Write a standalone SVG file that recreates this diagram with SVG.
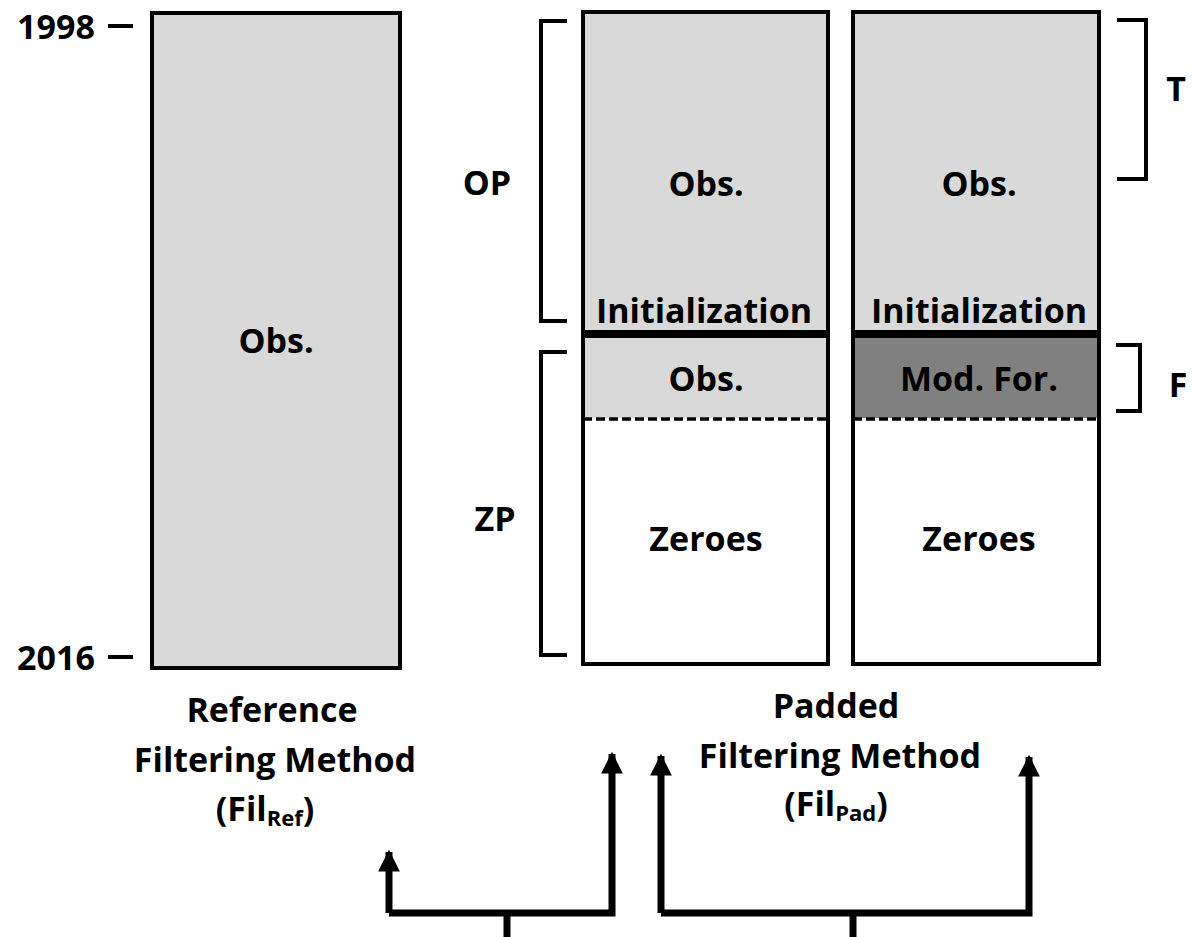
<svg xmlns="http://www.w3.org/2000/svg" width="1192" height="937" viewBox="0 0 1192 937">
<defs>
<style>
text{font-family:"Open Sans","Liberation Sans",sans-serif;font-weight:bold;fill:#000;text-anchor:middle;dominant-baseline:central}
.t{font-size:34px}
.box{stroke:#000;stroke-width:4}
.gray{fill:#d9d9d9}
.dark{fill:#808080}
.white{fill:#fff}
.br{fill:none;stroke:#000;stroke-width:4}
.con{fill:none;stroke:#000;stroke-width:7}
.dash{stroke:#000;stroke-width:3.5;stroke-dasharray:9,4}
</style>
<marker id="ah" viewBox="0 0 10 10" refX="9" refY="5" markerWidth="3.3" markerHeight="3.1" orient="auto" markerUnits="strokeWidth">
<path d="M0,0 L10,5 L0,10 Z" fill="#000"/>
</marker>
</defs>
<rect width="1192" height="937" fill="#fff"/>

<g id="axis">
<text class="t" x="56" y="26">1998</text>
<line x1="108" y1="26" x2="133" y2="26" stroke="#000" stroke-width="4"/>
<text class="t" x="56" y="657">2016</text>
<line x1="108" y1="657" x2="133" y2="657" stroke="#000" stroke-width="4"/>
</g>

<g id="ref-box">
<rect class="box gray" x="152" y="13" width="248" height="655"/>
<text class="t" x="276" y="340">Obs.</text>
</g>

<g id="pad-box-1">
<rect class="gray" x="583" y="12" width="245" height="406"/>
<rect class="white" x="583" y="418" width="245" height="246"/>
<line x1="583" y1="334" x2="828" y2="334" stroke="#000" stroke-width="8"/>
<line class="dash" x1="583" y1="419" x2="828" y2="419"/>
<rect class="box" fill="none" x="583" y="12" width="245" height="652"/>
<text class="t" x="706" y="183">Obs.</text>
<text class="t" x="704" y="310">Initialization</text>
<text class="t" x="706" y="378">Obs.</text>
<text class="t" x="706" y="538">Zeroes</text>
</g>

<g id="pad-box-2">
<rect class="gray" x="853" y="12" width="246" height="322"/>
<rect class="dark" x="853" y="334" width="246" height="84"/>
<rect class="white" x="853" y="418" width="246" height="246"/>
<line x1="853" y1="334" x2="1099" y2="334" stroke="#000" stroke-width="8"/>
<line class="dash" x1="853" y1="419" x2="1099" y2="419"/>
<rect class="box" fill="none" x="853" y="12" width="246" height="652"/>
<text class="t" x="979" y="183">Obs.</text>
<text class="t" x="979" y="310">Initialization</text>
<text class="t" x="979" y="378">Mod. For.</text>
<text class="t" x="979" y="538">Zeroes</text>
</g>

<g id="bracket-OP">
<path class="br" d="M567,21 H541 V321 H567"/>
<text class="t" x="487" y="182">OP</text>
</g>
<g id="bracket-ZP">
<path class="br" d="M567,352 H541 V655 H567"/>
<text class="t" x="495" y="518">ZP</text>
</g>
<g id="bracket-T">
<path class="br" d="M1117,20 H1146 V179 H1117"/>
<text class="t" x="1176" y="88">T</text>
</g>
<g id="bracket-F">
<path class="br" d="M1116,345 H1140 V411 H1116"/>
<text class="t" x="1178" y="384">F</text>
</g>

<g id="label-ref">
<text class="t" x="272" y="709">Reference</text>
<text class="t" x="275" y="759">Filtering Method</text>
<text class="t" x="265" y="808">(Fil<tspan font-size="22" dy="9">Ref</tspan><tspan dy="-9">)</tspan></text>
</g>
<g id="label-pad">
<text class="t" x="836" y="705">Padded</text>
<text class="t" x="840" y="755">Filtering Method</text>
<text class="t" x="836" y="803">(Fil<tspan font-size="22" dy="9">Pad</tspan><tspan dy="-9">)</tspan></text>
</g>

<g id="connectors">
<path class="con" d="M389,913 V852" marker-end="url(#ah)"/>
<path class="con" d="M389,913 H612 V754" marker-end="url(#ah)"/>
<line class="con" x1="507" y1="913" x2="507" y2="937"/>
<path class="con" d="M661,913 V756" marker-end="url(#ah)"/>
<path class="con" d="M661,913 H1029 V757" marker-end="url(#ah)"/>
<line class="con" x1="853" y1="913" x2="853" y2="937"/>
</g>
</svg>
